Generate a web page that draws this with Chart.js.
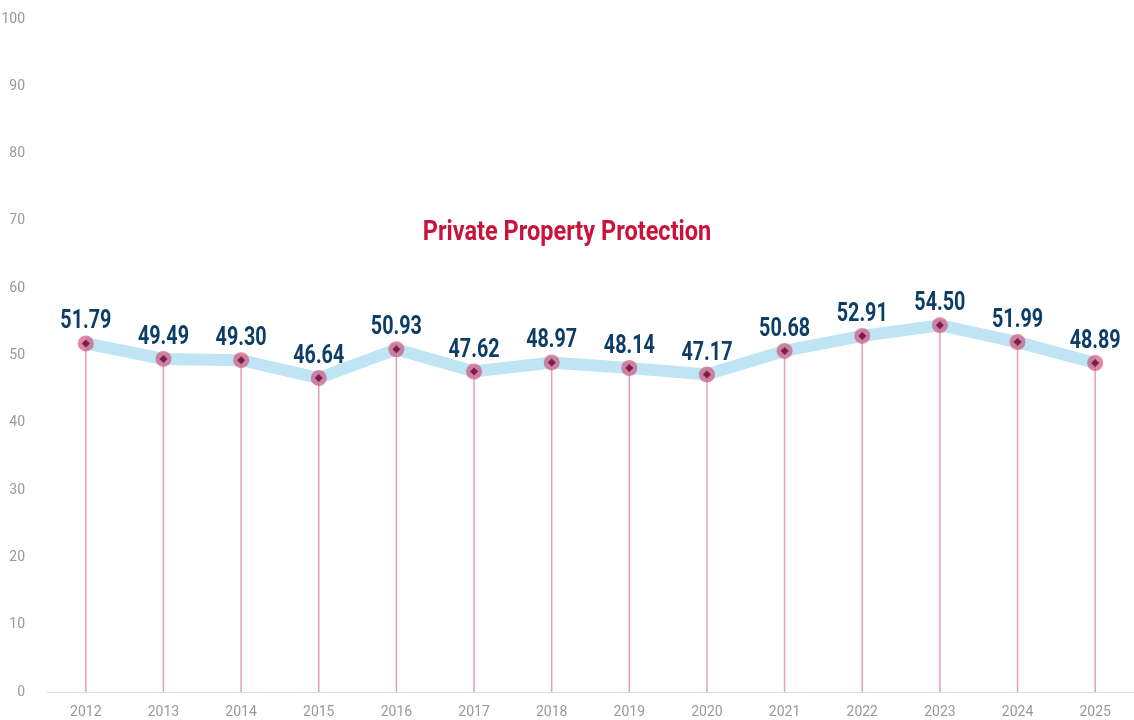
<!DOCTYPE html>
<html>
<head>
<meta charset="utf-8">
<script src="https://cdn.jsdelivr.net/npm/chart.js@4.4.1/dist/chart.umd.min.js"></script>
<style>
html,body{margin:0;padding:0;background:#fff;}
#wrap{width:1134px;height:720px;}
</style>
</head>
<body>
<div id="wrap"><canvas id="c" width="1134" height="720"></canvas></div>
<script>
const years = ['2012','2013','2014','2015','2016','2017','2018','2019','2020','2021','2022','2023','2024','2025'];
const scores = [51.79,49.49,49.30,46.64,50.93,47.62,48.97,48.14,47.17,50.68,52.91,54.50,51.99,48.89];
const chartTitle = 'Private Property Protection';

const labelFont = 'Roboto, "Liberation Sans", sans-serif';

function condensedText(ctx, text, x, y, sx) {
  ctx.save();
  ctx.translate(x, y);
  ctx.scale(sx, 1);
  ctx.fillText(text, 0, 0);
  ctx.restore();
}

const dropLines = {
  id: 'dropLines',
  beforeDatasetsDraw(chart) {
    const ctx = chart.ctx;
    const meta = chart.getDatasetMeta(0);
    const yBase = chart.scales.y.getPixelForValue(0);
    ctx.save();
    ctx.strokeStyle = '#e79fb3';
    ctx.lineWidth = 1.5;
    meta.data.forEach(pt => {
      ctx.beginPath();
      ctx.moveTo(pt.x, pt.y);
      ctx.lineTo(pt.x, yBase);
      ctx.stroke();
    });
    ctx.restore();
  }
};

const valueLabels = {
  id: 'valueLabels',
  afterDatasetsDraw(chart) {
    const ctx = chart.ctx;
    const meta = chart.getDatasetMeta(0);
    ctx.save();
    ctx.fillStyle = '#0c3d66';
    ctx.font = 'bold 25px ' + labelFont;
    ctx.textAlign = 'center';
    ctx.textBaseline = 'alphabetic';
    meta.data.forEach((pt, i) => {
      condensedText(ctx, scores[i].toFixed(2), pt.x, pt.y - 15, 0.79);
    });
    ctx.font = 'bold 28px ' + labelFont;
    ctx.fillStyle = '#c8133b';
    ctx.textBaseline = 'middle';
    condensedText(ctx, chartTitle, chart.width / 2, 233, 0.84);
    ctx.restore();
  }
};

new Chart(document.getElementById('c'), {
  type: 'line',
  data: {
    labels: years,
    datasets: [
      {
        data: scores,
        order: 1,
        clip: false,
        borderColor: '#bfe4f4',
        borderWidth: 12,
        tension: 0,
        pointStyle: 'circle',
        pointRadius: 8,
        pointBackgroundColor: 'rgba(205,75,115,0.65)',
        pointBorderWidth: 0,
        pointHoverRadius: 8
      },
      {
        data: scores,
        order: 0,
        clip: false,
        showLine: false,
        pointStyle: 'rectRot',
        pointRadius: 4,
        pointBackgroundColor: '#7d1d45',
        pointBorderWidth: 0
      }
    ]
  },
  options: {
    responsive: false,
    animation: false,
    layout: { autoPadding: false, padding: { top: 0, right: 0, left: 0, bottom: 0 } },
    plugins: { legend: { display: false }, tooltip: { enabled: false } },
    scales: {
      x: {
        offset: true,
        grid: { display: false },
        border: { display: true, color: '#dddddd', width: 1 },
        ticks: { color: '#999999', font: { family: 'Roboto', size: 14 }, padding: 4 },
        afterFit(scale) { scale.height = 28; scale.paddingRight = 0; scale.paddingLeft = 0; }
      },
      y: {
        min: 0, max: 100,
        grid: { display: false },
        border: { display: false },
        ticks: { stepSize: 10, color: '#999999', font: { family: 'Roboto', size: 14 }, padding: 14 },
        afterFit(scale) { scale.width = 47; scale.paddingTop = 19; scale.paddingBottom = 0; }
      }
    }
  },
  plugins: [dropLines, valueLabels]
});
</script>
</body>
</html>
